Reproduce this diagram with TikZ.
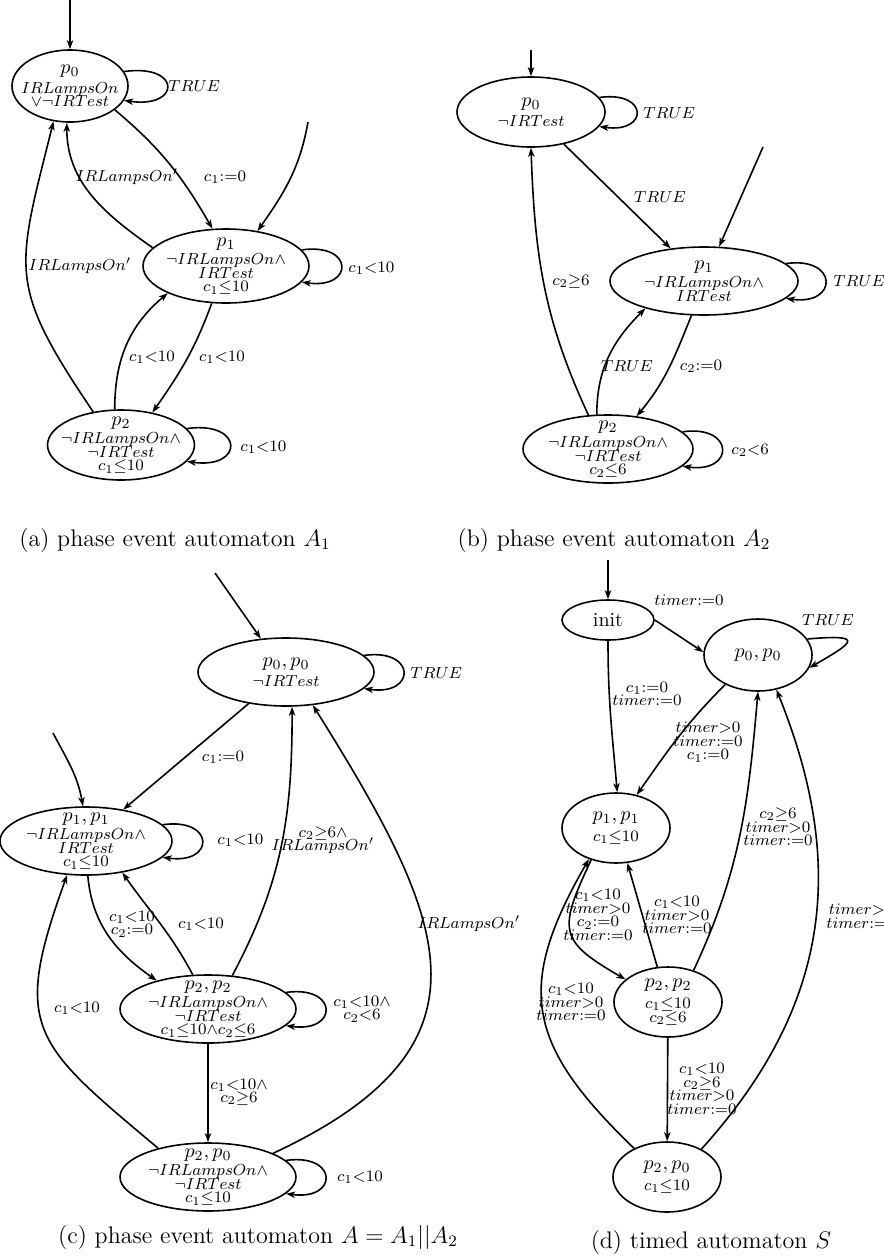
\documentclass[tikz,border=0pt]{standalone}
\usepackage{amsmath,amssymb}
\usetikzlibrary{arrows.meta,shapes}

\begin{document}
\begin{tikzpicture}[x=0.5pt,y=0.5pt,
    loc/.style={draw,thick,ellipse,inner sep=-4pt,align=center,
                font={\fontsize{8}{6.8}\selectfont\lineskiplimit=-8pt}},
    lbl/.style={inner sep=0pt,align=center,
                font={\fontsize{8}{6.8}\selectfont\lineskiplimit=-8pt}}]
\useasboundingbox (0,0) rectangle (884,-1260);

% (a) phase event automaton A_1
\begin{scope}
    \coordinate (a0in) at (70,0);
    \coordinate (a1in) at (308,-122);
    \node[loc,minimum width=58pt,minimum height=36pt] (a0) at (70,-86)
        {{\normalsize$p_0$}\\[3pt]$IRLampsOn$\\$\vee\neg IRTest$};
    \node[loc,minimum width=83pt,minimum height=37pt] (a1) at (226,-266)
        {{\normalsize$p_1$}\\[2.5pt]$\neg IRLampsOn\wedge$\\$IRTest$\\$c_1{\leq}10$};
    \node[loc,minimum width=72pt,minimum height=35pt] (a2) at (121,-445)
        {{\normalsize$p_2$}\\[2.5pt]$\neg IRLampsOn\wedge$\\$\neg IRTest$\\$c_1{\leq}10$};

    \node[lbl,anchor=west] (la00) at (168,-86) {$TRUE$};
    \node[lbl] (la01) at (225,-177) {$c_1{:=}0$};
    \node[lbl] (la10) at (127,-177) {$IRLampsOn'$};
    \node[lbl] (la20) at (80,-266) {$IRLampsOn'$};
    \node[lbl] (la21) at (152,-357) {$c_1{<}10$};
    \node[lbl] (la12) at (222,-357) {$c_1{<}10$};
    \node[lbl,anchor=west] (la11) at (348,-268) {$c_1{<}10$};
    \node[lbl,anchor=west] (la22) at (240,-447) {$c_1{<}10$};
    \node[font=\large] (capa) at (175,-540) {(a) phase event automaton $A_1$};
\end{scope}

% (b) phase event automaton A_2
\begin{scope}
    \coordinate (b0in) at (531,-50);
    \coordinate (b1in) at (763,-147);
    \node[loc,minimum width=74pt,minimum height=35pt] (b0) at (531,-112)
        {{\normalsize$p_0$}\\[3pt]$\neg IRTest$};
    \node[loc,minimum width=94pt,minimum height=34pt] (b1) at (704,-281)
        {{\normalsize$p_1$}\\[2.5pt]$\neg IRLampsOn\wedge$\\$IRTest$};
    \node[loc,minimum width=85pt,minimum height=34pt] (b2) at (608,-449)
        {{\normalsize$p_2$}\\[2.5pt]$\neg IRLampsOn\wedge$\\$\neg IRTest$\\$c_2{\leq}6$};

    \node[lbl,anchor=west] (lb00) at (643,-113) {$TRUE$};
    \node[lbl] (lb01) at (660,-197) {$TRUE$};
    \node[lbl,anchor=west] (lb11) at (833,-281) {$TRUE$};
    \node[lbl] (lb20) at (571,-281) {$c_2{\geq}6$};
    \node[lbl] (lb21) at (627,-366) {$TRUE$};
    \node[lbl] (lb12) at (701,-366) {$c_2{:=}0$};
    \node[lbl,anchor=west] (lb22) at (731,-450) {$c_2{<}6$};
    \node[font=\large] (capb) at (614,-540) {(b) phase event automaton $A_2$};
\end{scope}

% (c) phase event automaton A = A_1||A_2
\begin{scope}
    \coordinate (c00in) at (215,-573);
    \coordinate (c11in) at (53,-733);
    \node[loc,minimum width=88pt,minimum height=34pt] (c00) at (286,-672)
        {{\normalsize$p_0,p_0$}\\[3pt]$\neg IRTest$};
    \node[loc,minimum width=86pt,minimum height=34pt] (c11) at (86,-841)
        {{\normalsize$p_1,p_1$}\\[2.5pt]$\neg IRLampsOn\wedge$\\$IRTest$\\$c_1{\leq}10$};
    \node[loc,minimum width=88pt,minimum height=34pt] (c22) at (208,-1009)
        {{\normalsize$p_2,p_2$}\\[2.5pt]$\neg IRLampsOn\wedge$\\$\neg IRTest$\\$c_1{\leq}10{\wedge}c_2{\leq}6$};
    \node[loc,minimum width=88pt,minimum height=34pt] (c20) at (208,-1177)
        {{\normalsize$p_2,p_0$}\\[2.5pt]$\neg IRLampsOn\wedge$\\$\neg IRTest$\\$c_1{\leq}10$};

    \node[lbl,anchor=west] (lc0000) at (410,-673) {$TRUE$};
    \node[lbl] (lc0011) at (223,-757) {$c_1{:=}0$};
    \node[lbl,anchor=west] (lc1111) at (217,-840) {$c_1{<}10$};
    \node[lbl] (lc2200) at (323,-840) {$c_2{\geq}6\wedge$\\$IRLampsOn'$};
    \node[lbl] (lc1122) at (132,-924) {$c_1{<}10$\\$c_2{:=}0$};
    \node[lbl] (lc2211) at (201,-924) {$c_1{<}10$};
    \node[lbl] (lc2000) at (469,-924) {$IRLampsOn'$};
    \node[lbl] (lc2222) at (362,-1009) {$c_1{<}10\wedge$\\$c_2{<}6$};
    \node[lbl] (lc2011) at (77,-1008) {$c_1{<}10$};
    \node[lbl] (lc2220) at (239,-1092) {$c_1{<}10\wedge$\\$c_2{\geq}6$};
    \node[lbl] (lc2020) at (360,-1177) {$c_1{<}10$};
    \node[font=\large] (capc) at (258,-1237) {(c) phase event automaton $A=A_1||A_2$};
\end{scope}

% (d) timed automaton S
\begin{scope}
    \coordinate (dinitin) at (608,-560);
    \node[loc,minimum width=46pt,minimum height=20pt] (dinit) at (608,-620)
        {{\normalsize init}};
    \node[loc,minimum width=54pt,minimum height=36pt] (d00) at (758,-655)
        {{\normalsize$p_0,p_0$}};
    \node[loc,minimum width=54pt,minimum height=35pt] (d11) at (616,-828)
        {{\normalsize$p_1,p_1$}\\[3.5pt]$c_1{\leq}10$};
    \node[loc,minimum width=54pt,minimum height=35pt] (d22) at (668,-1002)
        {{\normalsize$p_2,p_2$}\\[3.5pt]$c_1{\leq}10$\\$c_2{\leq}6$};
    \node[loc,minimum width=54pt,minimum height=35pt] (d20) at (667,-1177)
        {{\normalsize$p_2,p_0$}\\[3.5pt]$c_1{\leq}10$};

    \node[lbl] (ldi00) at (689,-600) {$timer{:=}0$};
    \node[lbl] (ld0000) at (828,-620) {$TRUE$};
    \node[lbl] (ldi11) at (647,-694) {$c_1{:=}0$\\$timer{:=}0$};
    \node[lbl] (ld0011) at (708,-742) {$timer{>}0$\\$timer{:=}0$\\$c_1{:=}0$};
    \node[lbl] (ld2200) at (778,-827) {$c_2{\geq}6$\\$timer{>}0$\\$timer{:=}0$};
    \node[lbl] (ld1122) at (598,-915) {$c_1{<}10$\\$timer{>}0$\\$c_2{:=}0$\\$timer{:=}0$};
    \node[lbl] (ld2211) at (677,-915) {$c_1{<}10$\\$timer{>}0$\\$timer{:=}0$};
    \node[lbl,anchor=west] (ld2000) at (826,-916) {$timer{>}0$\\$timer{:=}0$};
    \node[lbl] (ld2011) at (571,-1002) {$c_1{<}10$\\$timer{>}0$\\$timer{:=}0$};
    \node[lbl] (ld2220) at (702,-1089) {$c_1{<}10$\\$c_2{\geq}6$\\$timer{>}0$\\$timer{:=}0$};
    \node[font=\large] (capd) at (711,-1242) {(d) timed automaton $S$};
\end{scope}

\begin{scope}[>={Stealth[length=4.5pt,width=3.2pt,inset=1.2pt]},
              thick,
              every edge/.style={draw,thick}]
    % (a)
    \path [->] (a0in) edge (a0);
    \path [->] (a1in) edge[out=-100,in=55] (a1.48);
    \draw [->] (a0.15) .. controls +(8:58) and +(-8:58) .. (a0.-15);
    \path [->] (a0.-28) edge[out=-40,in=120] (a1.110);
    \path [->] (a1.166) edge[out=145,in=-90] (a0.-95);
    \path [->] (a2.130) edge[out=124,in=-104,looseness=1.35] (a0.-115);
    \path [->] (a2.100) edge[out=90,in=-140] (a1.-155);
    \path [->] (a1.-111) edge[out=-110,in=55] (a2.46);
    \draw [->] (a1.12) .. controls +(8:53) and +(-8:53) .. (a1.-12);
    \draw [->] (a2.14) .. controls +(8:58) and +(-8:58) .. (a2.-14);

    % (b)
    \path [->] (b0in) edge (b0);
    \path [->] (b1in) edge (b1);
    \draw [->] (b0.12) .. controls +(8:50) and +(-8:50) .. (b0.-12);
    \path [->] (b0) edge (b1);
    \draw [->] (b1.12) .. controls +(8:53) and +(-8:53) .. (b1.-12);
    \path [->] (b1.-110) edge[out=-112,in=50] (b2.49);
    \path [->] (b2.108) edge[out=90,in=-135] (b1.-155);
    \path [->] (b2.120) edge[out=115,in=-88] (b0.-90);
    \draw [->] (b2.13) .. controls +(8:53) and +(-8:53) .. (b2.-13);

    % (c)
    \path [->] (c00in) edge (c00.127);
    \path [->] (c11in) edge[out=-62,in=100] (c11.95);
    \draw [->] (c00.12) .. controls +(8:53) and +(-8:53) .. (c00.-12);
    \path [->] (c00) edge (c11);
    \draw [->] (c11.12) .. controls +(8:53) and +(-8:53) .. (c11.-12);
    \path [->] (c11.-87) edge[out=-85,in=145] (c22.151);
    \path [->] (c22.114) edge[out=118,in=-55] (c11.-41);
    \path [->] (c22.54) edge[out=62,in=-90] (c00.-80);
    \path [->] (c20.20) edge[out=25,in=-58,looseness=1.45] (c00.-51);
    \path [->] (c22) edge (c20);
    \path [->] (c20.150) edge[out=140,in=-110,looseness=1.45] (c11.-119);
    \draw [->] (c22.12) .. controls +(8:53) and +(-8:53) .. (c22.-12);
    \draw [->] (c20.12) .. controls +(8:53) and +(-8:53) .. (c20.-12);

    % (d)
    \path [->] (dinitin) edge (dinit);
    \path [->] (dinit.east) edge (d00.177);
    \draw [->] (d00.18) .. controls +(5:60) and +(30:50) .. (d00.-14);
    \path [->] (dinit.south) edge[out=-90,in=95] (d11.88);
    \path [->] (d00.-138) edge[out=-135,in=55] (d11.58);
    \path [->] (d11.-128) edge[out=-115,in=150,looseness=1.6] (d22.152);
    \path [->] (d22.107) edge (d11.-72);
    \path [->] (d22.51) edge[out=65,in=-95] (d00.-90);
    \path [->] (d22) edge (d20);
    \path [->] (d20.139) edge[out=136,in=-120,looseness=1.3] (d11.-131);
    \path [->] (d20.39) edge[out=48,in=-68,looseness=1.05] (d00.-62);
\end{scope}
\end{tikzpicture}
\end{document}
